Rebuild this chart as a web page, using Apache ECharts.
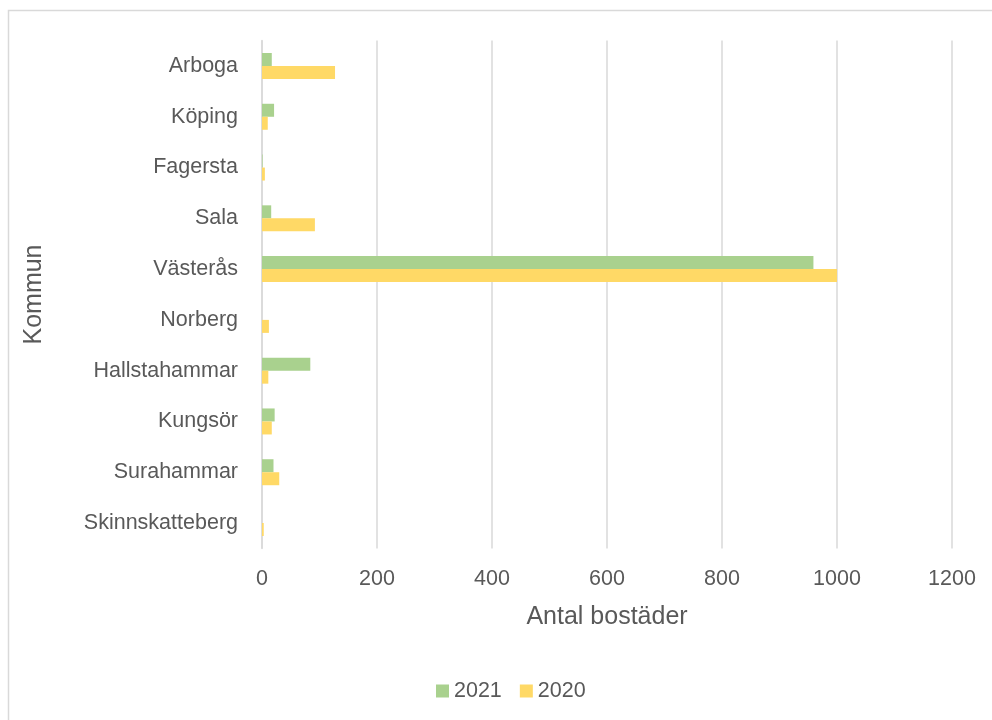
<!DOCTYPE html>
<html>
<head>
<meta charset="utf-8">
<script src="https://cdn.jsdelivr.net/npm/echarts@6/dist/echarts.min.js"></script>
<style>
html,body{margin:0;padding:0;background:#fff;}
#chart{width:992px;height:720px;}
</style>
</head>
<body>
<div id="chart"></div>
<script>
const categories = ['Arboga','Köping','Fagersta','Sala','Västerås','Norberg','Hallstahammar','Kungsör','Surahammar','Skinnskatteberg'];
const values2021 = [17, 21, 1, 16, 959, 0, 84, 22, 20, 0];
const values2020 = [127, 10, 5, 92, 1000, 12, 11, 17, 30, 3];
const seriesNames = ['2021', '2020'];
const xTicks = [0, 200, 400, 600, 800, 1000, 1200];

const FONT = 'Liberation Sans';
const TXT = '#595959';
const LBL = 21.5;
const TTL = 25;
const chart = echarts.init(document.getElementById('chart'), null, {renderer: 'canvas'});
chart.setOption({
  animation: false,
  backgroundColor: '#ffffff',
  textStyle: {fontFamily: FONT},
  graphic: [{
    type: 'rect',
    shape: {x: 8.5, y: 10.5, width: 1100, height: 800},
    style: {fill: 'none', stroke: '#D9D9D9', lineWidth: 1.5},
    silent: true
  }],
  grid: {left: 262, right: 40, top: 40.6, bottom: 171.6, containLabel: false},
  legend: {
    data: seriesNames,
    left: 431,
    top: 675,
    itemWidth: 13,
    itemHeight: 13,
    itemGap: 18,
    icon: 'rect',
    textStyle: {fontFamily: FONT, fontSize: LBL, color: TXT}
  },
  xAxis: {
    type: 'value',
    min: xTicks[0],
    max: xTicks[xTicks.length - 1],
    interval: xTicks[1] - xTicks[0],
    name: 'Antal bostäder',
    nameLocation: 'middle',
    nameGap: 56,
    nameTextStyle: {fontFamily: FONT, fontSize: TTL, color: TXT},
    axisLine: {show: false},
    axisTick: {show: false},
    axisLabel: {fontFamily: FONT, fontSize: LBL, color: TXT, margin: 20, formatter: function (v) { return String(v); }},
    splitLine: {show: true, lineStyle: {color: '#D9D9D9', width: 1.5}}
  },
  yAxis: {
    type: 'category',
    data: categories,
    inverse: true,
    name: 'Kommun',
    nameLocation: 'middle',
    nameRotate: 90,
    nameGap: 215,
    nameTextStyle: {fontFamily: FONT, fontSize: TTL, color: TXT},
    axisLine: {show: true, lineStyle: {color: '#D9D9D9', width: 1.5}},
    axisTick: {show: false},
    axisLabel: {fontFamily: FONT, fontSize: LBL, color: TXT, margin: 24},
    splitLine: {show: false}
  },
  series: [
    {name: seriesNames[0], type: 'bar', data: values2021, barWidth: 13, barGap: '0%', itemStyle: {color: '#A9D18E'}},
    {name: seriesNames[1], type: 'bar', data: values2020, barWidth: 13, barGap: '0%', itemStyle: {color: '#FFD966'}}
  ]
});
</script>
</body>
</html>
